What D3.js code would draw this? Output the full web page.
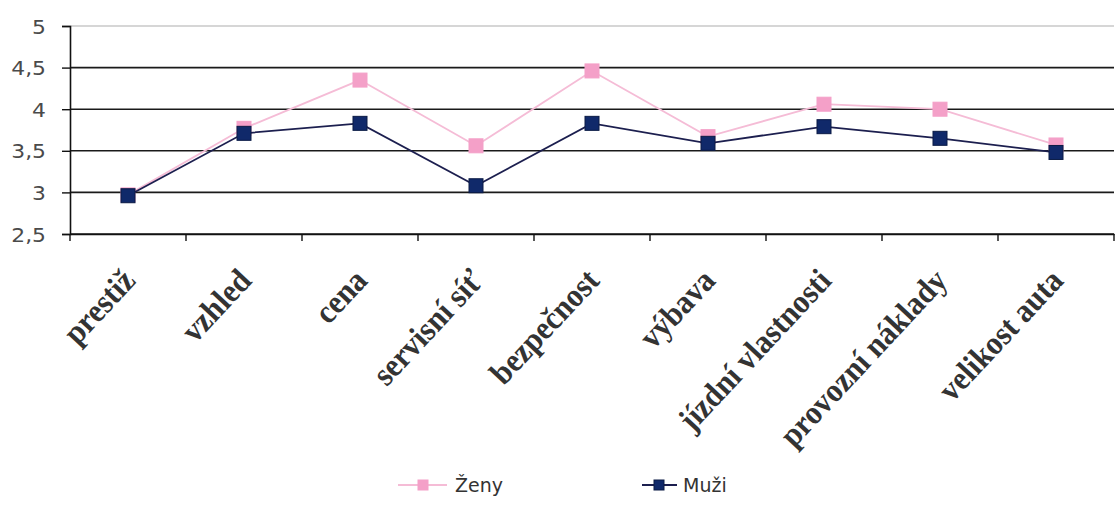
<!DOCTYPE html>
<html><head><meta charset="utf-8">
<script src="https://cdn.jsdelivr.net/npm/d3@7"></script>
<style>body{margin:0;background:#fff}svg{display:block}</style>
</head><body>
<script>
const categories = ["prestiž","vzhled","cena","servisní síť","bezpečnost","výbava","jízdní vlastnosti","provozní náklady","velikost auta"];
const zeny = [2.97,3.77,4.35,3.56,4.46,3.67,4.06,4.00,3.57];
const muzi = [2.96,3.71,3.83,3.08,3.83,3.59,3.79,3.65,3.48];
const yTicks = [2.5,3,3.5,4,4.5,5];
const seriesNames = ["Ženy","Muži"];

const W=1115,H=516;
const svg=d3.select("body").append("svg").attr("width",W).attr("height",H);
const m={l:70,r:1114,t:26,b:234};
const x=d3.scaleBand().domain(categories).range([m.l,m.r]);
const y=d3.scaleLinear().domain([2.5,5]).range([m.b,m.t]);

// gridlines
svg.append("g").selectAll("line").data(yTicks).join("line")
 .attr("x1",m.l).attr("x2",m.r).attr("y1",d=>y(d)).attr("y2",d=>y(d))
 .attr("stroke",d=>d===5?"#c8c8c8":"#1a1a1a").attr("stroke-width",1.6);

// y axis
const ya=svg.append("g").attr("transform",`translate(${m.l},0)`)
 .call(d3.axisLeft(y).tickValues(yTicks).tickSize(8).tickPadding(0).tickFormat(d=>String(d).replace(".",",")));
ya.select(".domain").attr("stroke","#111").attr("stroke-width",1.6);
ya.selectAll(".tick line").attr("stroke","#111").attr("stroke-width",1.4);
ya.selectAll(".tick text").attr("x",null).attr("dy",null)
 .attr("transform","translate(-24,7) scale(1.15,1)")
 .attr("font-family","DejaVu Sans, Verdana, sans-serif").attr("font-size",19).attr("fill","#4a4a4a");

// x axis
const xa=svg.append("g").attr("transform",`translate(0,${m.b})`).call(d3.axisBottom(x).tickSize(0).tickFormat(""));
xa.select(".domain").attr("stroke","#111").attr("stroke-width",1.6);
xa.selectAll(".tick").remove();
const bounds=categories.map(c=>x(c)).concat([m.r]);
svg.append("g").selectAll("line").data(bounds).join("line")
 .attr("x1",d=>d).attr("x2",d=>d).attr("y1",m.b).attr("y2",m.b+7).attr("stroke","#111").attr("stroke-width",1.4);

// x labels
svg.append("g").selectAll("text").data(categories).join("text")
 .attr("transform",d=>`translate(${x(d)+x.bandwidth()/2+9},${m.b+48}) rotate(-47) scale(0.97,1.05)`)
 .attr("text-anchor","end")
 .attr("font-family","Liberation Serif, Times New Roman, serif").attr("font-weight","bold")
 .attr("font-size",31.5).attr("fill","#333").text(d=>d);

const cx=c=>x(c)+x.bandwidth()/2;
const line=d3.line().x((d,i)=>cx(categories[i])).y(d=>y(d));
const S=[{name:seriesNames[0],vals:zeny,line:"#f5bcd6",fill:"#f4a0c8",stroke:"#f4a0c8"},
         {name:seriesNames[1],vals:muzi,line:"#1c1f4f",fill:"#10296a",stroke:"#0a1a45"}];
S.forEach(s=>{
 svg.append("path").datum(s.vals).attr("d",line).attr("fill","none").attr("stroke",s.line).attr("stroke-width",1.8);
 svg.append("g").selectAll("rect").data(s.vals).join("rect")
  .attr("x",(d,i)=>cx(categories[i])-7).attr("y",d=>y(d)-7).attr("width",14).attr("height",14)
  .attr("fill",s.fill).attr("stroke",s.stroke).attr("stroke-width",1);
});

// legend
const leg=[{x:398,x2:447,mx:423,tx:455},{x:642,x2:677,mx:659,tx:683}];
S.forEach((s,i)=>{
 const L=leg[i],ly=485;
 svg.append("line").attr("x1",L.x).attr("x2",L.x2).attr("y1",ly).attr("y2",ly).attr("stroke",s.line).attr("stroke-width",1.8);
 svg.append("rect").attr("x",L.mx-5).attr("y",ly-5).attr("width",10).attr("height",10).attr("fill",s.fill).attr("stroke",s.stroke);
 svg.append("text").attr("x",L.tx).attr("y",ly+7).attr("font-family","DejaVu Sans, Verdana, sans-serif").attr("font-size",19).attr("fill","#333").text(s.name);
});
</script>
</body></html>
